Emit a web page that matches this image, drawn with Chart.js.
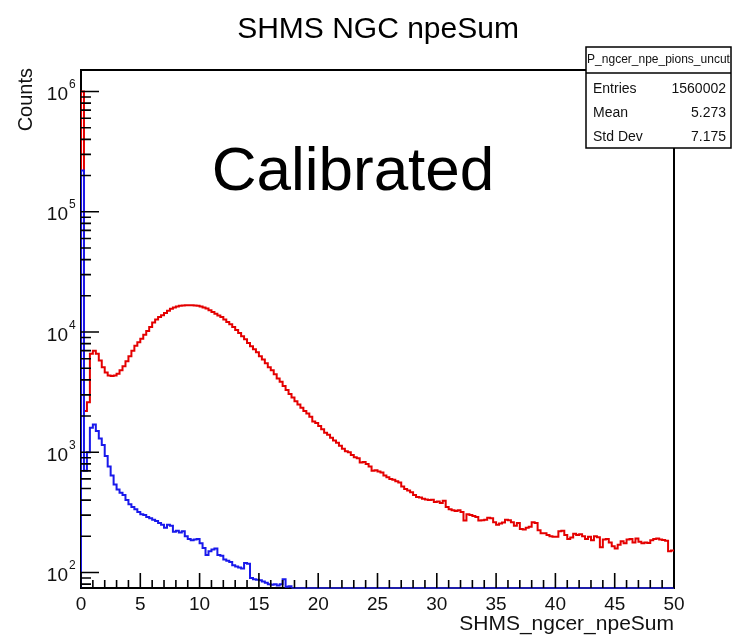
<!DOCTYPE html>
<html>
<head>
<meta charset="utf-8">
<script src="https://cdn.jsdelivr.net/npm/chart.js@4.4.0/dist/chart.umd.min.js"></script>
<style>
  html, body { margin: 0; padding: 0; background: #fff; }
  #wrap { width: 737px; height: 635px; }
</style>
</head>
<body>
<div id="wrap"><canvas id="chart" width="737" height="635"></canvas></div>
<script>
// Histogram binning and axis ranges
var binWidth = 0.25;
var xMin = 0, xMax = 50;
var yMin = 74.3, yMax = 1.51e6;
var xTickLabels = [0, 5, 10, 15, 20, 25, 30, 35, 40, 45, 50];
var yTickExponents = [2, 3, 4, 5, 6];

// P_ngcer_npe_pions_uncut (red), one value per 0.25 bin
var redCounts = [
  1000000, 2200, 2600, 6600, 7000, 6600, 5800, 5100, 4600, 4350,
  4300, 4350, 4500, 4800, 5200, 5700, 6300, 7000, 7700, 8200,
  8800, 9500, 10200, 11000, 12000, 12700, 13300, 13800, 14400, 15000,
  15600, 16000, 16300, 16500, 16600, 16700, 16700, 16700, 16600, 16500,
  16300, 16000, 15700, 15200, 14700, 14200, 13700, 13300, 12700, 12100,
  11600, 11000, 10400, 9800, 9200, 8700, 8100, 7600, 7200, 6800,
  6300, 5900, 5500, 5100, 4800, 4450, 4100, 3850, 3550, 3300,
  3050, 2850, 2650, 2500, 2350, 2200, 2100, 1970, 1800, 1750,
  1650, 1550, 1450, 1400, 1320, 1250, 1200, 1130, 1070, 1020,
  1000, 950, 910, 890, 820, 830, 800, 760, 700, 710,
  690, 680, 640, 620, 600, 590, 575, 560, 520, 495,
  480, 465, 440, 425, 420, 410, 405, 400, 402, 385,
  390, 378, 395, 350, 335, 330, 325, 330, 318, 270,
  305, 300, 295, 290, 270, 272, 275, 285, 282, 262,
  250, 255, 260, 275, 272, 262, 245, 258, 230, 228,
  235, 240, 262, 258, 225, 212, 212, 205, 200, 198,
  198, 220, 222, 205, 190, 195, 210, 205, 208, 200,
  190, 198, 185, 200, 196, 162, 188, 190, 178, 165,
  158, 170, 182, 175, 188, 190, 178, 192, 180, 175,
  178, 176, 185, 190, 192, 188, 186, 184, 150, 152
];

// second (blue) histogram, falls under the axis minimum after ~18
var blueCounts = [
  220000, 700, 1000, 1600, 1700, 1500, 1300, 1150, 930, 760,
  640, 540, 490, 460, 440, 400, 370, 350, 335, 318,
  305, 300, 290, 283, 275, 268, 258, 250, 235, 250,
  245, 218, 222, 215, 220, 200, 190, 185, 188, 190,
  175, 160, 140, 150, 155, 158, 140, 138, 128, 125,
  122, 115, 112, 110, 108, 120, 118, 90, 88, 87,
  86, 84, 82, 80, 79, 80, 78, 80, 88, 76,
  77, 70
];

var statsName = 'P_ngcer_npe_pions_uncut';
var statsLabels = ['Entries', 'Mean', 'Std Dev'];
var statsValues = ['1560002', '5.273', '7.175'];

var FONT = "'Liberation Sans', Arial, Helvetica, sans-serif";

// turn bin contents into step points (left edge of each bin, plus closing point)
function histPoints(counts) {
  var pts = [{ x: 0, y: 1 }];
  counts.forEach(function (c, i) {
    pts.push({ x: i * binWidth, y: c });
  });
  pts.push({ x: counts.length * binWidth, y: counts[counts.length - 1] });
  return pts;
}

// ROOT-like frame, inside ticks, labels and stats box
var rootFrame = {
  id: 'rootFrame',
  beforeDraw: function (chart) {
    var ctx = chart.ctx;
    ctx.save();
    ctx.fillStyle = '#fff';
    ctx.fillRect(0, 0, chart.width, chart.height);
    ctx.restore();
  },
  beforeDatasetsDraw: function (chart) {
    var ctx = chart.ctx, a = chart.chartArea;
    ctx.save();
    ctx.strokeStyle = '#000';
    ctx.lineWidth = 2;
    ctx.strokeRect(a.left, a.top, a.right - a.left, a.bottom - a.top);
    ctx.restore();
  },
  afterDatasetsDraw: function (chart) {
    var ctx = chart.ctx, a = chart.chartArea;
    var xs = chart.scales.x, ys = chart.scales.y;
    ctx.save();

    // blue bins below the minimum are drawn along the bottom, as ROOT does
    var firstLow = blueCounts.findIndex(function (c) { return c < yMin; });
    if (firstLow >= 0) {
      ctx.strokeStyle = 'rgb(30,30,170)';
      ctx.lineWidth = 2;
      ctx.beginPath();
      ctx.moveTo(xs.getPixelForValue(firstLow * binWidth), a.bottom);
      ctx.lineTo(xs.getPixelForValue(xMax), a.bottom);
      ctx.stroke();
    }

    // ticks
    ctx.strokeStyle = '#000';
    ctx.lineWidth = 1.6;
    ctx.beginPath();
    for (var v = xMin; v <= xMax; v += 1) {
      var px = xs.getPixelForValue(v);
      var len = (v % 5 === 0) ? 15 : 8;
      ctx.moveTo(px, a.bottom);
      ctx.lineTo(px, a.bottom - len);
    }
    for (var d = 1; d <= 6; d++) {
      for (var m = 1; m <= 9; m++) {
        var val = m * Math.pow(10, d);
        if (val < yMin || val > yMax) continue;
        var py = ys.getPixelForValue(val);
        var tl = (m === 1) ? 18 : 10;
        ctx.moveTo(a.left, py);
        ctx.lineTo(a.left + tl, py);
      }
    }
    ctx.stroke();

    // x tick labels
    ctx.fillStyle = '#111';
    ctx.font = '19px ' + FONT;
    ctx.textAlign = 'center';
    ctx.textBaseline = 'alphabetic';
    xTickLabels.forEach(function (t) {
      ctx.fillText(String(t), xs.getPixelForValue(t), a.bottom + 22);
    });

    // y tick labels 10^n
    yTickExponents.forEach(function (e) {
      var py = ys.getPixelForValue(Math.pow(10, e));
      ctx.font = '19px ' + FONT;
      ctx.textAlign = 'right';
      ctx.fillText('10', a.left - 13, py + 8.5);
      ctx.font = '12px ' + FONT;
      ctx.textAlign = 'left';
      ctx.fillText(String(e), a.left - 12, py - 3.5);
    });

    // axis titles
    ctx.font = '21px ' + FONT;
    ctx.textAlign = 'right';
    ctx.fillText('SHMS_ngcer_npeSum', a.right, 630);

    ctx.save();
    ctx.translate(26, a.top - 2);
    ctx.rotate(-Math.PI / 2);
    ctx.font = '20px ' + FONT;
    ctx.textAlign = 'right';
    ctx.textBaseline = 'middle';
    ctx.fillText('Counts', 0, 0);
    ctx.restore();

    // title
    ctx.fillStyle = '#000';
    ctx.font = '30px ' + FONT;
    ctx.textAlign = 'center';
    ctx.fillText('SHMS NGC npeSum', 378, 38);

    // annotation
    ctx.font = '62px ' + FONT;
    ctx.fillText('Calibrated', 353, 190);

    // stats box
    var bx = 586, by = 47, bw = 145, bh = 101, hy = 73;
    ctx.fillStyle = '#fff';
    ctx.fillRect(bx, by, bw, bh);
    ctx.strokeStyle = '#000';
    ctx.lineWidth = 1.5;
    ctx.strokeRect(bx, by, bw, bh);
    ctx.beginPath();
    ctx.moveTo(bx, hy);
    ctx.lineTo(bx + bw, hy);
    ctx.stroke();

    ctx.save();
    ctx.beginPath();
    ctx.rect(bx + 1, by + 1, bw - 2, hy - by - 2);
    ctx.clip();
    ctx.fillStyle = '#111';
    ctx.font = '12px ' + FONT;
    ctx.textAlign = 'center';
    ctx.textBaseline = 'middle';
    ctx.fillText(statsName, bx + bw / 2, 60);
    ctx.restore();

    ctx.fillStyle = '#111';
    ctx.font = '14px ' + FONT;
    ctx.textBaseline = 'middle';
    var rowY = [89, 113, 137];
    statsLabels.forEach(function (lab, i) {
      ctx.textAlign = 'left';
      ctx.fillText(lab, bx + 7, rowY[i]);
      ctx.textAlign = 'right';
      ctx.fillText(statsValues[i], bx + bw - 5, rowY[i]);
    });

    ctx.restore();
  }
};

var ctx = document.getElementById('chart').getContext('2d');
var chart = new Chart(ctx, {
  type: 'line',
  data: {
    datasets: [
      {
        label: 'blue',
        data: histPoints(blueCounts),
        borderColor: 'rgb(25,25,235)',
        borderWidth: 2,
        pointRadius: 0,
        stepped: true,
        fill: false,
        order: 1
      },
      {
        label: statsName,
        data: histPoints(redCounts),
        borderColor: 'rgb(228,0,0)',
        borderWidth: 2,
        pointRadius: 0,
        stepped: true,
        fill: false,
        order: 2
      }
    ]
  },
  options: {
    responsive: false,
    animation: false,
    layout: { padding: { left: 81, right: 63, top: 70, bottom: 47 } },
    scales: {
      x: { type: 'linear', min: xMin, max: xMax, display: false },
      y: { type: 'logarithmic', min: yMin, max: yMax, display: false }
    },
    plugins: {
      legend: { display: false },
      tooltip: { enabled: false },
      title: { display: false }
    }
  },
  plugins: [rootFrame]
});
</script>
</body>
</html>
